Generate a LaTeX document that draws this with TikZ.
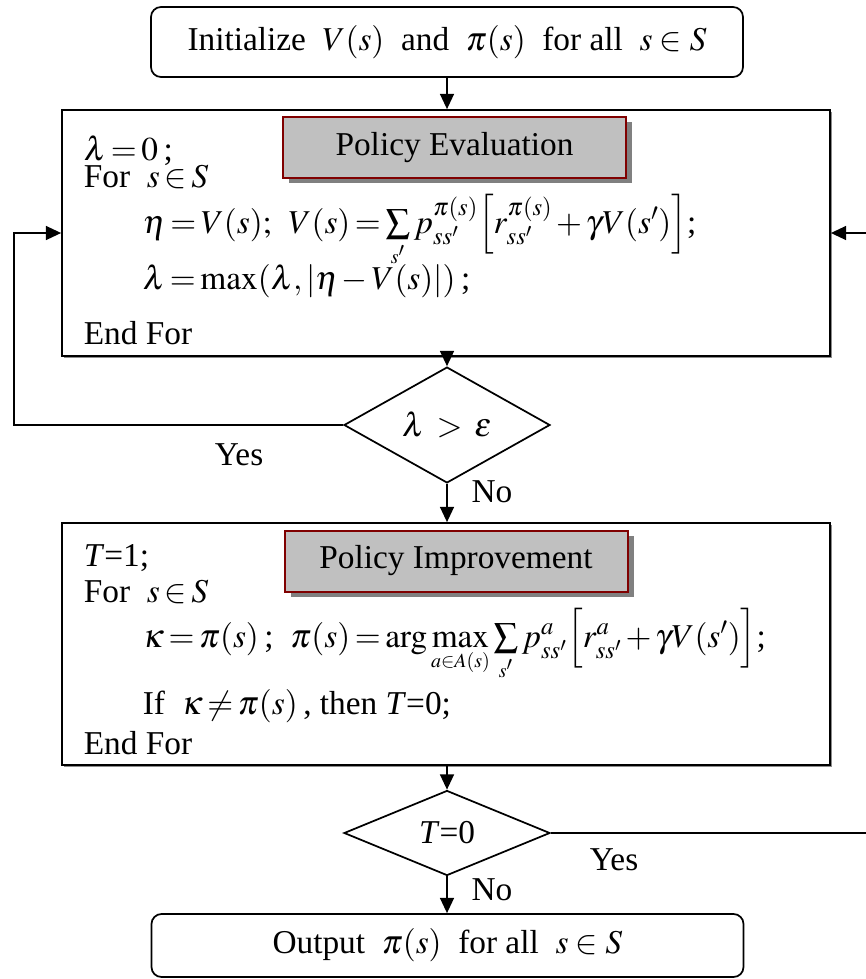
\documentclass[tikz,border=0pt]{standalone}
\usepackage{mathptmx}
\usepackage{graphicx}
\usepackage[no-math]{fontspec}
\setmainfont{Liberation Serif}
\usetikzlibrary{arrows.meta,shapes.geometric,shadows}
\definecolor{pegray}{HTML}{C0C0C0}
\definecolor{peshadow}{HTML}{808080}
\definecolor{pered}{HTML}{800000}
\newcommand{\msum}[1]{\mathop{\vcenter{\hbox{\scalebox{0.72}{$\displaystyle\sum$}}}}\limits_{\raisebox{8pt}[0pt][0pt]{$\scriptscriptstyle #1$}}}
\newcommand{\tightmath}{\thickmuskip=2.5mu plus 1mu\relax\medmuskip=2mu plus 1mu\relax}
\begin{document}
\begin{tikzpicture}[x=0.75pt,y=-0.75pt,
  line width=1.3pt,
  every node/.style={font=\fontsize{25}{30}\selectfont, inner sep=0pt},
  rbox/.style={draw, rounded corners=7.5pt, minimum width=444pt, minimum height=52.5pt},
  mainbox/.style={draw, fill=white, minimum width=576pt,
     drop shadow={shadow xshift=1.2pt, shadow yshift=-1.2pt, fill=black!45, opacity=1}},
  titlebox/.style={draw=pered, line width=1.5pt, fill=pegray, minimum width=257.25pt, minimum height=45.75pt,
     drop shadow={shadow xshift=4.5pt, shadow yshift=-3.75pt, fill=peshadow, opacity=1}},
  decide/.style={draw, diamond, minimum width=154.5pt, minimum height=63.75pt},
  codeline/.style={anchor=base west, font=\fontsize{25}{30}\selectfont\tightmath},
  flow/.style={-{Triangle[length=11.5pt,width=10.5pt]}},
]
\useasboundingbox (0,0) rectangle (865,979);

% start
\node[rbox] (init) at (447,42) {Initialize\ \ $V(s)$\ \ and\ \ $\pi(s)$\ \ for all\ \ $s\in S$};

% policy evaluation block
\node[mainbox, minimum height=184.5pt] (eval) at (446,233) {};
\node[titlebox] (pe) at (454.5,147.5) {Policy Evaluation};
\node[codeline] (e1) at (83,160) {$\lambda = 0$\,;};
\node[codeline] (e2) at (83,187) {For\ \ $s\in S$};
\node[codeline] (e3) at (142,233) {$\eta = V(s);$\ \ $V(s) = \msum{s'}p_{ss'}^{\pi(s)}\Big[r_{ss'}^{\pi(s)} + \gamma V(s')\Big]$;};
\node[codeline] (e4) at (142,289) {$\lambda = \max(\lambda,|\eta - V(s)|)$\,;};
\node[codeline] (e5) at (83,344) {End For};

% decision 1
\node[decide] (d1) at (447,425) {$\lambda\:>\:\epsilon$};

% policy improvement block
\node[mainbox, minimum height=181.5pt] (impr) at (446,644) {};
\node[titlebox] (pi) at (456,561) {Policy Improvement};
\node[codeline] (i1) at (83,566) {\textit{T}=1;};
\node[codeline] (i2) at (83,602) {For\ \ $s\in S$};
\node[codeline] (i3) at (142,647) {$\kappa = \pi(s)$\,;\ \ $\pi(s) = \arg\max\limits_{\scriptscriptstyle a\in A(s)}\msum{s'}p_{ss'}^{a}\Big[r_{ss'}^{a} + \gamma V(s')\Big]$;};
\node[codeline] (i4) at (142,714) {If\ \ $\kappa\neq\pi(s)$\,, then \textit{T}=0;};
\node[codeline] (i5) at (83,754) {End For};

% decision 2
\node[decide] (d2) at (447,833) {\textit{T}=0};

% output
\node[rbox, minimum height=47.25pt] (out) at (447.5,945.5) {Output\ \ $\pi(s)$\ \ for all\ \ $s\in S$};

% labels
\node (yes1) at (239,455) {Yes};
\node (no1) at (492,492) {No};
\node (yes2) at (614,860) {Yes};
\node (no2) at (492,890) {No};

% loop corners
\coordinate (lc) at (14,233);
\coordinate (rc) at (867,233);

% connectors
\draw[flow] (init.south) -- (init.south |- eval.north);
\draw[flow] (d1.north |- eval.south) -- (d1.north);
\draw[flow] (d1.south) -- (d1.south |- impr.north);
\draw[flow] (d1.west) -| (lc) -- (eval.west);
\draw[flow] (d2.north |- impr.south) -- (d2.north);
\draw[flow] (d2.south) -- (d2.south |- out.north);
\draw[flow] (d2.east) -| (rc) -- (eval.east);
\end{tikzpicture}
\end{document}
